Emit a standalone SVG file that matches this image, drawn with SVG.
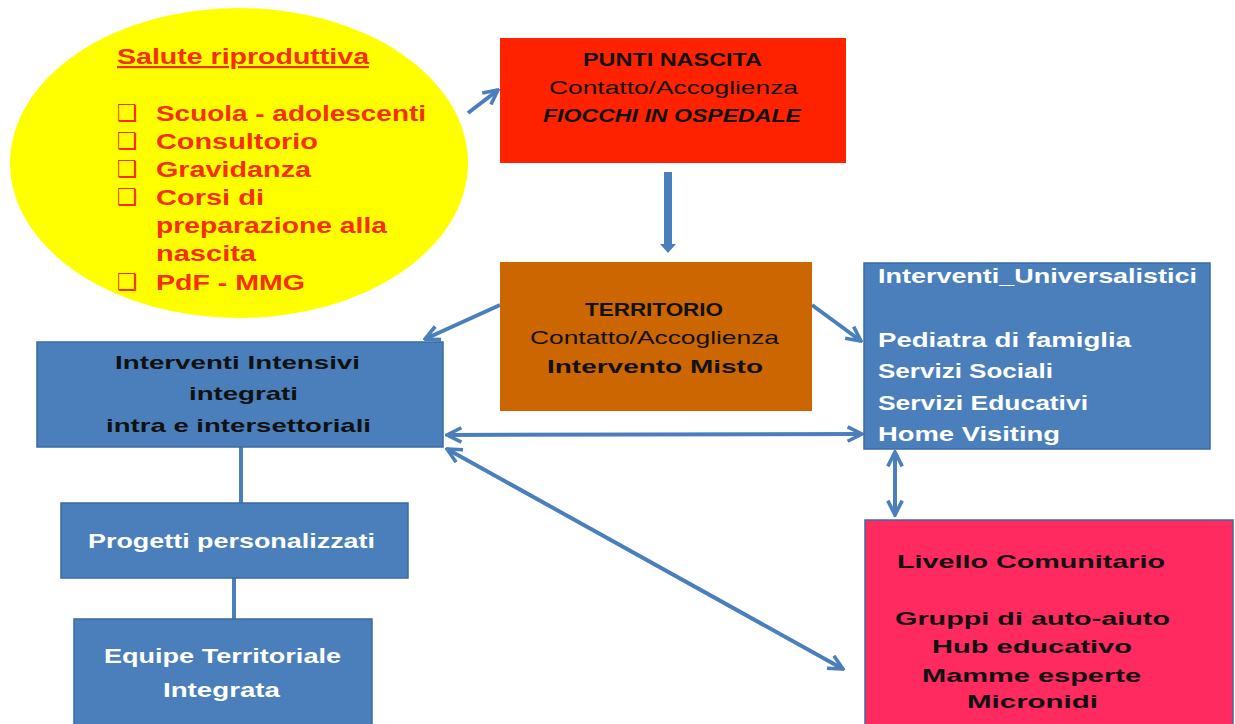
<svg xmlns="http://www.w3.org/2000/svg" width="1235" height="724" viewBox="0 0 1235 724">
<style>
  .blue{fill:#4A7FBC;stroke:#3A6CA3;stroke-width:1.5}
  .wt{fill:#FFFFFF;font-family:"Liberation Sans",Arial,sans-serif;font-weight:bold;font-size:21px}
  .dk{fill:#111111;font-family:"Liberation Sans",Arial,sans-serif;font-size:19px}
  .b{font-weight:bold}
  .rd{fill:#F52F00;font-family:"Liberation Sans",Arial,sans-serif;font-weight:bold;font-size:22px}
  .bx{fill:#F52F00;font-family:"DejaVu Sans",sans-serif;font-size:23px;font-weight:bold}
  .conn{stroke:#4A7FBC;stroke-width:4;fill:none}
</style>
<defs>
  <marker id="ah" viewBox="0 0 10 10" refX="9" refY="5" markerWidth="4.5" markerHeight="4.5" orient="auto-start-reverse" markerUnits="strokeWidth">
    <path d="M1,1 L9,5 L1,9" fill="none" stroke="#4A7FBC" stroke-width="2"/>
  </marker>
</defs>

<g id="connectors">
  <line class="conn" x1="468" y1="113" x2="498" y2="90" marker-end="url(#ah)"/>
  <line x1="668" y1="172" x2="668" y2="248" stroke="#4A7FBC" stroke-width="8"/>
  <path d="M660,244 L668,253 L676,244 Z" fill="#4A7FBC"/>
  <line class="conn" x1="500" y1="305" x2="425" y2="339" marker-end="url(#ah)"/>
  <line class="conn" x1="812" y1="305" x2="861" y2="341" marker-end="url(#ah)"/>
  <line class="conn" x1="447" y1="435" x2="862" y2="434" marker-start="url(#ah)" marker-end="url(#ah)"/>
  <line class="conn" x1="447" y1="449" x2="843" y2="669" marker-start="url(#ah)" marker-end="url(#ah)"/>
  <line class="conn" x1="895" y1="452" x2="895" y2="515" marker-start="url(#ah)" marker-end="url(#ah)"/>
  <line x1="241" y1="447" x2="241" y2="503" stroke="#4A7FBC" stroke-width="4"/>
  <line x1="234" y1="578" x2="234" y2="620" stroke="#4A7FBC" stroke-width="4"/>
</g>

<g id="salute">
  <ellipse cx="239" cy="163" rx="229" ry="155" fill="#FFFF00"/>
  <text class="rd" x="117" y="64" font-size="20" text-decoration="underline" textLength="252" lengthAdjust="spacingAndGlyphs">Salute riproduttiva</text>
  <text class="bx" x="117" y="121">❑</text>
  <text class="rd" x="156" y="121" textLength="270" lengthAdjust="spacingAndGlyphs">Scuola - adolescenti</text>
  <text class="bx" x="117" y="149">❑</text>
  <text class="rd" x="156" y="149" textLength="162" lengthAdjust="spacingAndGlyphs">Consultorio</text>
  <text class="bx" x="117" y="177">❑</text>
  <text class="rd" x="156" y="177" textLength="155" lengthAdjust="spacingAndGlyphs">Gravidanza</text>
  <text class="bx" x="117" y="205">❑</text>
  <text class="rd" x="156" y="205" textLength="108" lengthAdjust="spacingAndGlyphs">Corsi di</text>
  <text class="rd" x="156" y="233" textLength="231" lengthAdjust="spacingAndGlyphs">preparazione alla</text>
  <text class="rd" x="156" y="261" textLength="100" lengthAdjust="spacingAndGlyphs">nascita</text>
  <text class="bx" x="117" y="290">❑</text>
  <text class="rd" x="156" y="290" textLength="149" lengthAdjust="spacingAndGlyphs">PdF - MMG</text>
</g>

<g id="punti-nascita">
  <rect x="500" y="38" width="346" height="125" fill="#FF2200"/>
  <text class="dk b" x="583" y="66" textLength="179" lengthAdjust="spacingAndGlyphs">PUNTI NASCITA</text>
  <text class="dk" x="549" y="94" textLength="249" lengthAdjust="spacingAndGlyphs">Contatto/Accoglienza</text>
  <text class="dk b" x="543" y="122" font-style="italic" textLength="258" lengthAdjust="spacingAndGlyphs">FIOCCHI IN OSPEDALE</text>
</g>

<g id="territorio">
  <rect x="500" y="262" width="312" height="149" fill="#CC6600"/>
  <text class="dk b" x="585" y="316" textLength="138" lengthAdjust="spacingAndGlyphs">TERRITORIO</text>
  <text class="dk" x="530" y="344" textLength="249" lengthAdjust="spacingAndGlyphs">Contatto/Accoglienza</text>
  <text class="dk b" x="547" y="373" font-size="21" textLength="216" lengthAdjust="spacingAndGlyphs">Intervento Misto</text>
</g>

<g id="universalistici">
  <rect class="blue" x="864" y="263" width="346" height="186"/>
  <text class="wt" x="878" y="283" textLength="319" lengthAdjust="spacingAndGlyphs">Interventi_Universalistici</text>
  <text class="wt" x="878" y="347" textLength="253" lengthAdjust="spacingAndGlyphs">Pediatra di famiglia</text>
  <text class="wt" x="878" y="378" textLength="175" lengthAdjust="spacingAndGlyphs">Servizi Sociali</text>
  <text class="wt" x="878" y="410" textLength="210" lengthAdjust="spacingAndGlyphs">Servizi Educativi</text>
  <text class="wt" x="878" y="441" textLength="182" lengthAdjust="spacingAndGlyphs">Home Visiting</text>
</g>

<g id="intensivi">
  <rect class="blue" x="37" y="342" width="406" height="105" stroke="none"/>
  <text class="dk b" x="115" y="369" font-size="21" textLength="245" lengthAdjust="spacingAndGlyphs">Interventi Intensivi</text>
  <text class="dk b" x="189" y="400" font-size="21" textLength="109" lengthAdjust="spacingAndGlyphs">integrati</text>
  <text class="dk b" x="106" y="432" font-size="21" textLength="265" lengthAdjust="spacingAndGlyphs">intra e intersettoriali</text>
</g>

<g id="progetti">
  <rect class="blue" x="61" y="503" width="347" height="75"/>
  <text class="wt" x="88" y="548" font-size="20" textLength="287" lengthAdjust="spacingAndGlyphs">Progetti personalizzati</text>
</g>

<g id="equipe">
  <rect class="blue" x="74" y="619" width="298" height="110"/>
  <text class="wt" x="104" y="663" font-size="20" textLength="237" lengthAdjust="spacingAndGlyphs">Equipe Territoriale</text>
  <text class="wt" x="163" y="697" font-size="20" textLength="117" lengthAdjust="spacingAndGlyphs">Integrata</text>
</g>

<g id="comunitario">
  <rect x="865" y="520" width="368" height="210" fill="#FF2A60" stroke="#3A6CA3" stroke-width="1.5"/>
  <text class="dk b" x="897" y="568" font-size="22" textLength="268" lengthAdjust="spacingAndGlyphs">Livello Comunitario</text>
  <text class="dk b" x="895" y="625" font-size="22" textLength="275" lengthAdjust="spacingAndGlyphs">Gruppi di auto-aiuto</text>
  <text class="dk b" x="932" y="653" font-size="22" textLength="200" lengthAdjust="spacingAndGlyphs">Hub educativo</text>
  <text class="dk b" x="922" y="682" font-size="22" textLength="219" lengthAdjust="spacingAndGlyphs">Mamme esperte</text>
  <text class="dk b" x="967" y="708" font-size="22" textLength="131" lengthAdjust="spacingAndGlyphs">Micronidi</text>
</g>
</svg>
